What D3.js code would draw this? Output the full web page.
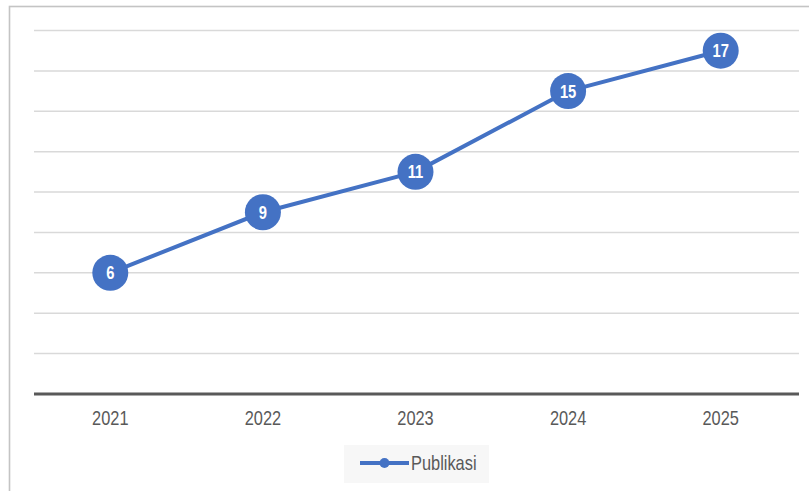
<!DOCTYPE html>
<html>
<head>
<meta charset="utf-8">
<script src="https://cdn.jsdelivr.net/npm/d3@7"></script>
<style>
  html, body { margin: 0; padding: 0; background: #fff; }
  svg { display: block; }
</style>
</head>
<body>
<svg id="chart" width="809" height="491"></svg>
<script>
const years = ["2021", "2022", "2023", "2024", "2025"];
const publikasi = [6, 9, 11, 15, 17];
const seriesName = "Publikasi";
const gridTicks = [2, 4, 6, 8, 10, 12, 14, 16, 18];

const W = 809, H = 491;
const svg = d3.select("#chart");
const blue = "#4472C4";
const font = "'Liberation Sans', Arial, sans-serif";
const narrow = "scale(0.82,1)";

// frame
svg.append("rect")
  .attr("x", 9.5).attr("y", 6.5)
  .attr("width", W + 20).attr("height", H + 20)
  .attr("fill", "none").attr("stroke", "#c4c4c4").attr("stroke-width", 1.6);

const x = d3.scaleBand().domain(years).range([34, 797]).padding(0);
const y = d3.scaleLinear().domain([0, 18]).range([394, 30.5]);

// gridlines
svg.append("g").selectAll("line").data(gridTicks).join("line")
  .attr("x1", 34).attr("x2", 799)
  .attr("y1", d => y(d)).attr("y2", d => y(d))
  .attr("stroke", "#d9d9d9").attr("stroke-width", 1.5);

// x axis
const xAxis = svg.append("g")
  .attr("transform", `translate(0,${y(0)})`)
  .call(d3.axisBottom(x).tickSize(0).tickPadding(17));
xAxis.select(".domain").attr("stroke", "#595959").attr("stroke-width", 3)
  .attr("d", "M34,0H799");
xAxis.selectAll("text")
  .attr("font-family", font).attr("font-size", 20).attr("fill", "#595959")
  .attr("transform", narrow);

const cx = d => x(d) + x.bandwidth() / 2;
const data = years.map((yr, i) => ({ yr, v: publikasi[i] }));

// line
svg.append("path").datum(data)
  .attr("fill", "none").attr("stroke", blue).attr("stroke-width", 4)
  .attr("stroke-linejoin", "round")
  .attr("d", d3.line().x(d => cx(d.yr)).y(d => y(d.v)));

// markers
const pts = svg.append("g").selectAll("g").data(data).join("g")
  .attr("transform", d => `translate(${cx(d.yr)},${y(d.v)})`);
pts.append("circle").attr("r", 18).attr("fill", blue);
pts.append("text")
  .attr("text-anchor", "middle").attr("dy", "0.36em")
  .attr("font-family", font).attr("font-weight", "bold").attr("font-size", 18)
  .attr("fill", "#fff").attr("transform", narrow)
  .text(d => d.v);

// legend
const lg = svg.append("g");
lg.append("rect").attr("x", 344).attr("y", 445).attr("width", 145).attr("height", 38)
  .attr("fill", "#f7f7f7");
lg.append("line").attr("x1", 360).attr("x2", 409).attr("y1", 463).attr("y2", 463)
  .attr("stroke", blue).attr("stroke-width", 4);
lg.append("circle").attr("cx", 384.5).attr("cy", 463).attr("r", 5).attr("fill", blue);
lg.append("g").attr("transform", "translate(411,470) " + narrow)
  .append("text")
  .attr("font-family", font).attr("font-size", 20).attr("fill", "#595959")
  .text(seriesName);
</script>
</body>
</html>
